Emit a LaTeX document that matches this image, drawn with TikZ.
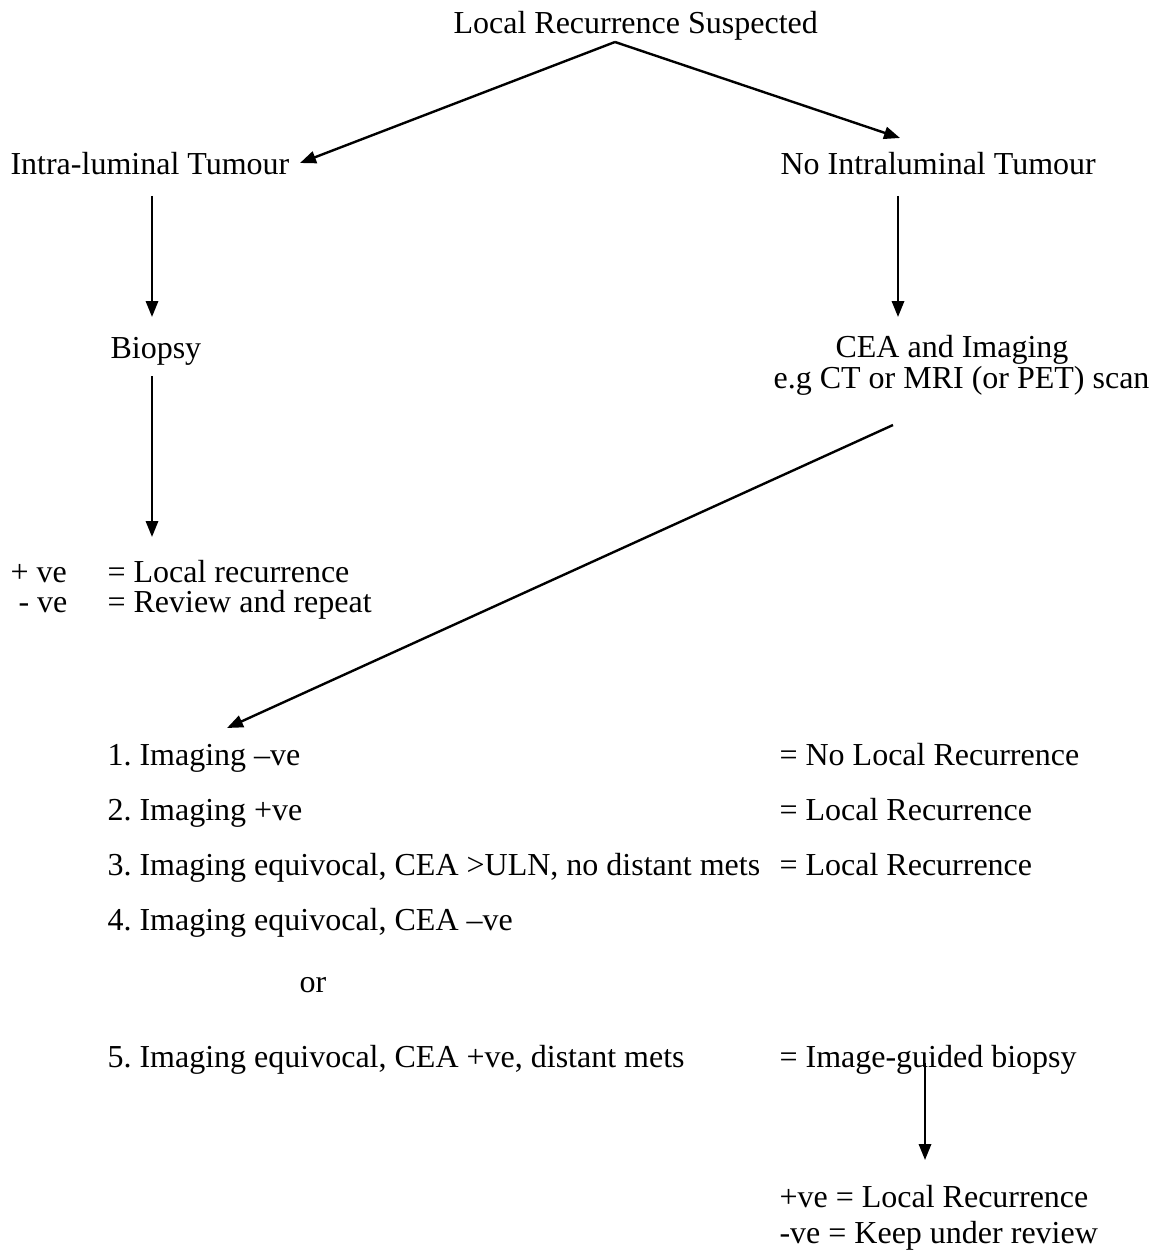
\documentclass[tikz,border=0pt]{standalone}
\usepackage{fontspec}
\setmainfont{Liberation Serif}
\usetikzlibrary{arrows.meta}
\frenchspacing
\begin{document}
\begin{tikzpicture}[x=0.375pt,y=-0.375pt,
  lbl/.style={anchor=base west,inner sep=0pt,font=\fontsize{12}{14}\selectfont},
  flow/.style={line width=0.9pt,-{Triangle[length=6pt,width=4.6pt]}}]
\useasboundingbox (0,0) rectangle (1166,1251);

% top level
\node[lbl] (top) at (453,34) {Local Recurrence Suspected};
\node[lbl] (intra) at (10,175) {Intra-luminal Tumour};
\node[lbl] (nointra) at (780,175) {No Intraluminal Tumour};

% left branch
\node[lbl] (biopsy) at (110,358) {Biopsy};
\node[lbl] (pos) at (10,582) {+ ve};
\node[lbl] (posres) at (107,582) {= Local recurrence};
\node[lbl] (neg) at (18,612) {- ve};
\node[lbl] (negres) at (107,612) {= Review and repeat};

% right branch
\node[lbl] (cea) at (835,357) {CEA and Imaging};
\node[lbl] (scan) at (773,388) {e.g CT or MRI (or PET) scan};

% outcomes list
\node[lbl] (o1) at (107,765) {1. Imaging –ve};
\node[lbl] (o2) at (107,820) {2. Imaging +ve};
\node[lbl] (o3) at (107,875) {3. Imaging equivocal, CEA >ULN, no distant mets};
\node[lbl] (o4) at (107,930) {4. Imaging equivocal, CEA –ve};
\node[lbl] (or) at (299,992) {or};
\node[lbl] (o5) at (107,1067) {5. Imaging equivocal, CEA +ve, distant mets};
\node[lbl] (r1) at (779,765) {= No Local Recurrence};
\node[lbl] (r2) at (779,820) {= Local Recurrence};
\node[lbl] (r3) at (779,875) {= Local Recurrence};
\node[lbl] (r5) at (779,1067) {= Image-guided biopsy};
\node[lbl] (bpos) at (779,1207) {+ve = Local Recurrence};
\node[lbl] (bneg) at (779,1243) {-ve = Keep under review};

% connector end points
\coordinate (apex) at (615,42);
\coordinate (intraTip) at (300,163);
\coordinate (nointraTip) at (900,138);
\coordinate (lTop) at (152,196);
\coordinate (lTip) at (152,317);
\coordinate (rTop) at (898,196);
\coordinate (rTip) at (898,317);
\coordinate (bTop) at (152,376);
\coordinate (bTip) at (152,537);
\coordinate (dStart) at (893,425);
\coordinate (dTip) at (227,728);
\coordinate (gTop) at (925,1063);
\coordinate (gTip) at (925,1160);

\draw[flow] (apex) -- (intraTip);
\draw[flow] (apex) -- (nointraTip);
\draw[flow] (lTop) -- (lTip);
\draw[flow] (rTop) -- (rTip);
\draw[flow] (bTop) -- (bTip);
\draw[flow] (dStart) -- (dTip);
\draw[flow] (gTop) -- (gTip);
\end{tikzpicture}
\end{document}
